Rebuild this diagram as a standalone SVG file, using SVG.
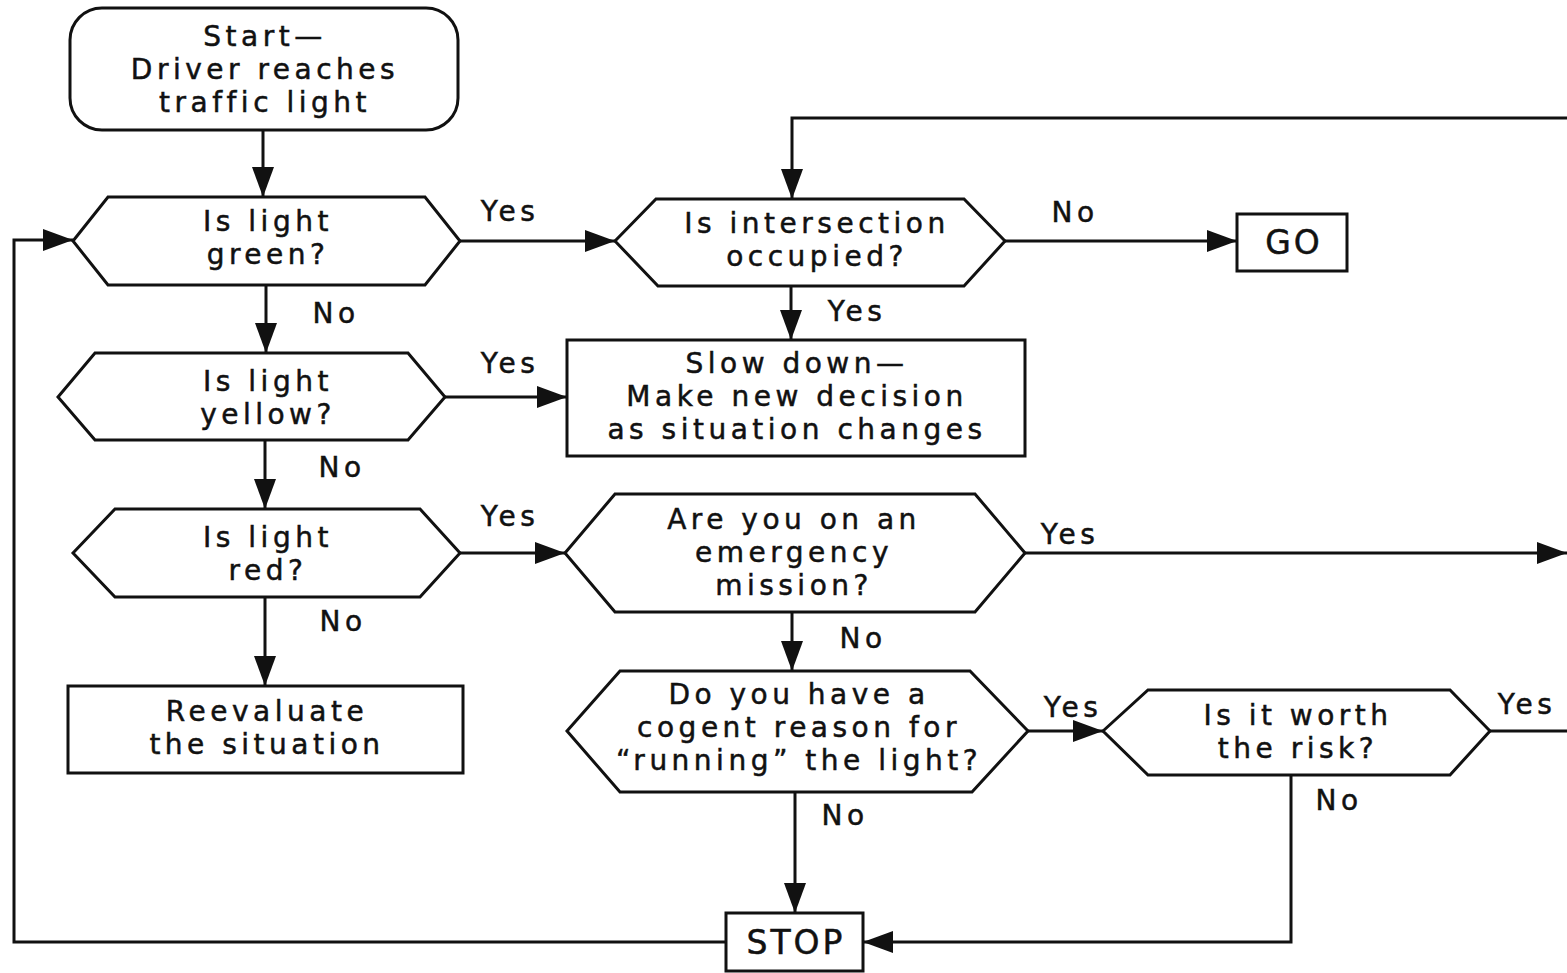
<svg xmlns="http://www.w3.org/2000/svg" width="1567" height="973" viewBox="0 0 1567 973">
<style>
.shape{fill:#fff;stroke:#111;stroke-width:3;stroke-linejoin:miter}
.t{font-family:"DejaVu Sans","Liberation Sans",sans-serif;font-size:28px;fill:#111;stroke:#111;stroke-width:0.5;text-anchor:middle;letter-spacing:4.5px}
.big{font-size:33px;letter-spacing:3px}
.edge{fill:none;stroke:#111;stroke-width:3}
</style>
<defs>
<marker id="arr" markerUnits="userSpaceOnUse" markerWidth="32" markerHeight="22" refX="30" refY="11" orient="auto">
<path d="M0,0 L30,11 L0,22 z" fill="#111"/>
</marker>
</defs>
<rect width="1567" height="973" fill="#fff"/>
<g id="connectors">
<path class="edge" d="M263,130 V197" marker-end="url(#arr)"/>
<path class="edge" d="M460,241 H615" marker-end="url(#arr)"/>
<path class="edge" d="M1005,241 H1237" marker-end="url(#arr)"/>
<path class="edge" d="M1567,118 H792 V199" marker-end="url(#arr)"/>
<path class="edge" d="M791,286 V340" marker-end="url(#arr)"/>
<path class="edge" d="M266,285 V353" marker-end="url(#arr)"/>
<path class="edge" d="M445,397 H567" marker-end="url(#arr)"/>
<path class="edge" d="M265,440 V509" marker-end="url(#arr)"/>
<path class="edge" d="M460,553 H565" marker-end="url(#arr)"/>
<path class="edge" d="M265,597 V686" marker-end="url(#arr)"/>
<path class="edge" d="M1025,553 H1567" marker-end="url(#arr)"/>
<path class="edge" d="M792,612 V671" marker-end="url(#arr)"/>
<path class="edge" d="M1028,731 H1103" marker-end="url(#arr)"/>
<path class="edge" d="M1490,731 H1567"/>
<path class="edge" d="M795,792 V913" marker-end="url(#arr)"/>
<path class="edge" d="M1291,775 V942 H863" marker-end="url(#arr)"/>
<path class="edge" d="M726,942 H14 V240 H73" marker-end="url(#arr)"/>
<text class="t" x="510" y="221">Yes</text>
<text class="t" x="510" y="373">Yes</text>
<text class="t" x="510" y="526">Yes</text>
<text class="t" x="336" y="323">No</text>
<text class="t" x="342" y="477">No</text>
<text class="t" x="343" y="631">No</text>
<text class="t" x="1075" y="222">No</text>
<text class="t" x="857" y="321">Yes</text>
<text class="t" x="1070" y="544">Yes</text>
<text class="t" x="863" y="648">No</text>
<text class="t" x="1073" y="717">Yes</text>
<text class="t" x="1527" y="714">Yes</text>
<text class="t" x="1339" y="810">No</text>
<text class="t" x="845" y="825">No</text>
</g>
<g id="start">
<rect class="shape" x="70" y="8" width="388" height="122" rx="32"/>
<text class="t" x="265" y="46">Start—</text>
<text class="t" x="265" y="79">Driver reaches</text>
<text class="t" x="265" y="112">traffic light</text>
</g>
<g id="green">
<polygon class="shape" points="73,241 108,197 425,197 460,241 425,285 108,285"/>
<text class="t" x="268" y="231">Is light</text>
<text class="t" x="268" y="264">green?</text>
</g>
<g id="intersection">
<polygon class="shape" points="615,241 656,199 964,199 1005,241 964,286 658,286"/>
<text class="t" x="817" y="233">Is intersection</text>
<text class="t" x="817" y="266">occupied?</text>
</g>
<g id="go">
<rect class="shape" x="1237" y="214" width="110" height="57"/>
<text class="t big" x="1294" y="254">GO</text>
</g>
<g id="slowdown">
<rect class="shape" x="567" y="340" width="458" height="116"/>
<text class="t" x="797" y="373">Slow down—</text>
<text class="t" x="797" y="406">Make new decision</text>
<text class="t" x="797" y="439">as situation changes</text>
</g>
<g id="yellow">
<polygon class="shape" points="58,397 95,353 408,353 445,397 408,440 95,440"/>
<text class="t" x="268" y="391">Is light</text>
<text class="t" x="268" y="424">yellow?</text>
</g>
<g id="red">
<polygon class="shape" points="73,553 115,509 420,509 460,553 420,597 115,597"/>
<text class="t" x="268" y="547">Is light</text>
<text class="t" x="268" y="580">red?</text>
</g>
<g id="reevaluate">
<rect class="shape" x="68" y="686" width="395" height="87"/>
<text class="t" x="267" y="721">Reevaluate</text>
<text class="t" x="267" y="754">the situation</text>
</g>
<g id="emergency">
<polygon class="shape" points="565,553 615,494 975,494 1025,553 975,612 615,612"/>
<text class="t" x="794" y="529">Are you on an</text>
<text class="t" x="794" y="562">emergency</text>
<text class="t" x="794" y="595">mission?</text>
</g>
<g id="cogent">
<polygon class="shape" points="567,731 620,671 970,671 1028,731 972,792 620,792"/>
<text class="t" x="799" y="704">Do you have a</text>
<text class="t" x="799" y="737">cogent reason for</text>
<text class="t" x="799" y="770">“running” the light?</text>
</g>
<g id="worth">
<polygon class="shape" points="1103,731 1148,690 1450,690 1490,731 1450,775 1148,775"/>
<text class="t" x="1298" y="725">Is it worth</text>
<text class="t" x="1298" y="758">the risk?</text>
</g>
<g id="stop">
<rect class="shape" x="726" y="913" width="137" height="58"/>
<text class="t big" x="796" y="954">STOP</text>
</g>
</svg>
